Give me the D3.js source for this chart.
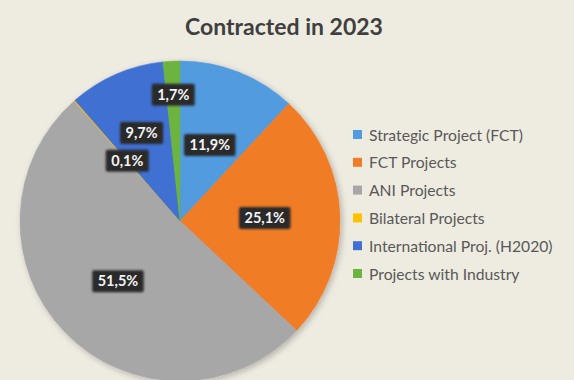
<!DOCTYPE html>
<html>
<head>
<meta charset="utf-8">
<script src="https://cdn.jsdelivr.net/npm/d3@7"></script>
<style>
  html, body { margin: 0; padding: 0; background: #EEEBE1; }
  svg { display: block; }
</style>
</head>
<body>
<svg id="chart" width="574" height="380"></svg>
<script>
// Contract shares for 2023 (percent)
const categories = [
  "Strategic Project (FCT)",
  "FCT Projects",
  "ANI Projects",
  "Bilateral Projects",
  "International Proj. (H2020)",
  "Projects with Industry"
];
const values = [11.9, 25.1, 51.5, 0.1, 9.7, 1.7];
const sliceColors = ["#519BDE", "#F07C26", "#A7A7A7", "#FFC000", "#3F70D2", "#6DB33F"];
const title = "Contracted in 2023";

// Radial position of each data label, as a fraction of the radius
const labelRadius = [0.51, 0.53, 0.54, 0.50, 0.60, 0.79];

const width = 574, height = 380;
const cx = 180, cy = 221, R = 160;

const svg = d3.select("#chart");

const defs = svg.append("defs");
const pieShadow = defs.append("filter").attr("id", "pieShadow")
  .attr("x", "-20%").attr("y", "-20%").attr("width", "140%").attr("height", "140%");
pieShadow.append("feGaussianBlur").attr("in", "SourceAlpha").attr("stdDeviation", 3);
pieShadow.append("feOffset").attr("dx", 2).attr("dy", 2).attr("result", "b");
pieShadow.append("feComponentTransfer").append("feFuncA").attr("type", "linear").attr("slope", 0.25);
const m1 = pieShadow.append("feMerge");
m1.append("feMergeNode");
m1.append("feMergeNode").attr("in", "SourceGraphic");

const boxShadow = defs.append("filter").attr("id", "boxShadow")
  .attr("x", "-30%").attr("y", "-50%").attr("width", "160%").attr("height", "200%");
boxShadow.append("feGaussianBlur").attr("in", "SourceGraphic").attr("stdDeviation", 1.2);

svg.append("text")
  .attr("x", 284).attr("y", 35)
  .attr("text-anchor", "middle")
  .attr("font-family", "Lato, 'Open Sans', sans-serif")
  .attr("font-weight", 700)
  .attr("font-size", 23)
  .attr("fill", "#3F3F3F")
  .text(title);

const pie = d3.pie().sort(null).value(d => d.v);
const arcs = pie(values.map((v, i) => ({ v, i })));
const arc = d3.arc().innerRadius(0).outerRadius(R);

const color = d3.scaleOrdinal().domain(categories).range(sliceColors);

const g = svg.append("g").attr("transform", `translate(${cx},${cy})`);

g.append("g").attr("filter", "url(#pieShadow)")
  .selectAll("path")
  .data(arcs)
  .join("path")
  .attr("d", arc)
  .attr("fill", d => color(categories[d.data.i]))
  .attr("stroke", d => color(categories[d.data.i]))
  .attr("stroke-width", 0.6);

const fmt = v => d3.format(".1f")(v).replace(".", ",") + "%";

const labels = g.append("g").selectAll("g")
  .data(arcs)
  .join("g")
  .attr("transform", d => {
    const a = (d.startAngle + d.endAngle) / 2;
    const r = R * labelRadius[d.data.i];
    return `translate(${Math.sin(a) * r},${-Math.cos(a) * r})`;
  });

labels.each(function (d) {
  const sel = d3.select(this);
  const t = sel.append("text")
    .attr("text-anchor", "middle")
    .attr("dy", "0.36em")
    .attr("font-family", "Lato, 'Open Sans', sans-serif")
    .attr("font-weight", 700)
    .attr("font-size", 14.5)
    .attr("fill", "#F4F4F4")
    .text(fmt(d.data.v));
  const w = t.node().getComputedTextLength() + 11;
  const h = 22;
  sel.insert("rect", "text")
    .attr("x", -w / 2).attr("y", -h / 2)
    .attr("width", w).attr("height", h)
    .attr("rx", 2)
    .attr("fill", "#2B2B2B")
    .attr("filter", "url(#boxShadow)");
});

// Legend
const legend = svg.append("g").attr("transform", "translate(353,135)");
const rowStep = 27.8;
const item = legend.selectAll("g")
  .data(categories)
  .join("g")
  .attr("transform", (d, i) => `translate(0,${i * rowStep})`);

item.append("rect")
  .attr("x", 0).attr("y", -5)
  .attr("width", 9).attr("height", 9)
  .attr("fill", d => color(d));

item.append("text")
  .attr("x", 16).attr("y", 0)
  .attr("dy", "0.35em")
  .attr("font-family", "Lato, 'Open Sans', sans-serif")
  .attr("font-size", 15.7)
  .attr("fill", "#595959")
  .text(d => d);
</script>
</body>
</html>
